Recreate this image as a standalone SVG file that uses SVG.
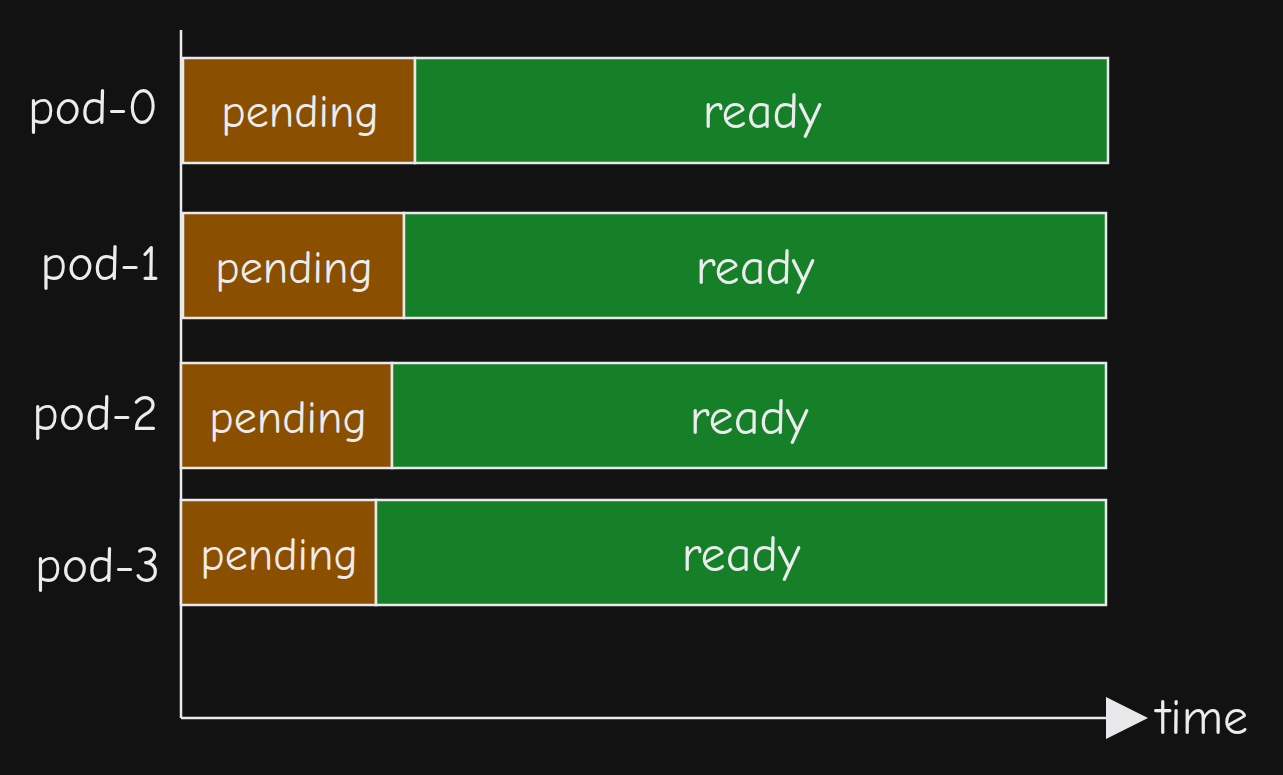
<svg xmlns="http://www.w3.org/2000/svg" width="1283" height="775" viewBox="0 0 1283 775">
<defs>
<style>
.bg{fill:#121212}
.pend{fill:#8b4f00;stroke:#e9e9eb;stroke-width:2.5}
.ready{fill:#168028;stroke:#e9e9eb;stroke-width:2.5}
.axis{stroke:#e9e9eb;stroke-width:2.5;fill:none}
.t{font-family:"Comic Neue","Liberation Sans",sans-serif;font-size:46px;fill:#ececee;dominant-baseline:central}
.w{font-size:50px}
.c{text-anchor:middle}
.r{text-anchor:end}
</style>
<marker id="arrow" viewBox="0 0 42 42" refX="0" refY="21" markerWidth="42" markerHeight="42" markerUnits="userSpaceOnUse" orient="auto">
<path d="M0,0 L42,21 L0,42 Z" fill="#e9e9eb"/>
</marker>
</defs>
<rect class="bg" x="0" y="0" width="1283" height="775"/>
<g id="connectors">
<line class="axis" x1="181" y1="30" x2="181" y2="718"/>
<line class="axis" x1="181" y1="718" x2="1106" y2="718" marker-end="url(#arrow)"/>
</g>
<g id="time-label"><text class="t w" x="1156" y="718">time</text></g>
<g id="pod-0">
<text class="t r w" x="158" y="108">pod-0</text>
<rect class="pend" x="183" y="58" width="232" height="105"/>
<rect class="ready" x="415" y="58" width="693" height="105"/>
<text class="t c" x="300" y="112">pending</text>
<text class="t c w" x="762" y="112">ready</text>
</g>
<g id="pod-1">
<text class="t r w" x="160" y="264">pod-1</text>
<rect class="pend" x="183" y="213" width="221" height="105"/>
<rect class="ready" x="404" y="213" width="702" height="105"/>
<text class="t c" x="294" y="268">pending</text>
<text class="t c w" x="755" y="268">ready</text>
</g>
<g id="pod-2">
<text class="t r w" x="158" y="414">pod-2</text>
<rect class="pend" x="181" y="363" width="211" height="105"/>
<rect class="ready" x="392" y="363" width="714" height="105"/>
<text class="t c" x="288" y="418">pending</text>
<text class="t c w" x="749" y="418">ready</text>
</g>
<g id="pod-3">
<text class="t r w" x="160" y="566">pod-3</text>
<rect class="pend" x="181" y="500" width="195" height="105"/>
<rect class="ready" x="376" y="500" width="730" height="105"/>
<text class="t c" x="279" y="555">pending</text>
<text class="t c w" x="741" y="555">ready</text>
</g>
</svg>
